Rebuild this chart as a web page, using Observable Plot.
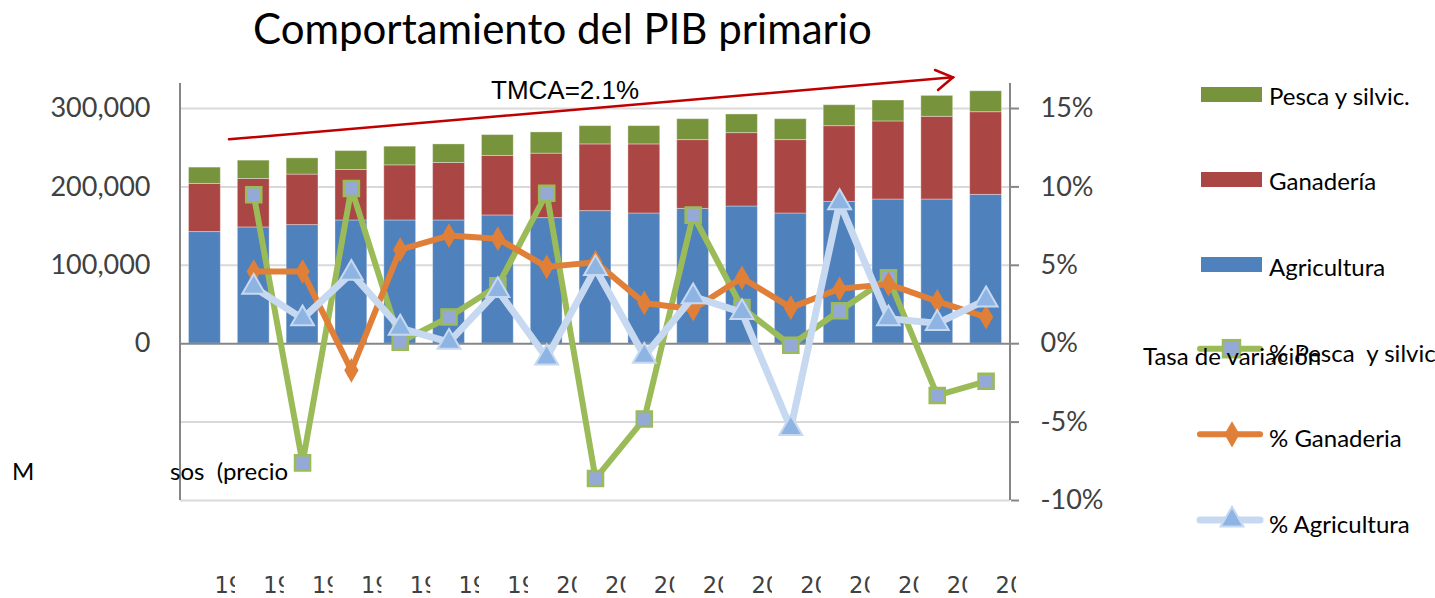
<!DOCTYPE html>
<html><head><meta charset="utf-8">
<script src="https://cdn.jsdelivr.net/npm/d3@7"></script>
<script src="https://cdn.jsdelivr.net/npm/@observablehq/plot@0.6"></script>
<style>
body{margin:0;background:#fff;}
#wrap{position:relative;width:1435px;height:598px;overflow:hidden;font-family:Lato,sans-serif;}
#wrap > svg{position:absolute;left:0;top:0;}
.abs{position:absolute;white-space:pre;color:#000;}
.title{left:253px;top:3px;font-size:42px;line-height:50px;}
.leg{font-size:24px;line-height:28px;left:1269px;}
.sw{position:absolute;left:1201px;width:61px;height:15px;}
</style></head><body><div id="wrap"></div>
<script>
// ---- data ----
const years = ["1993","1994","1995","1996","1997","1998","1999","2000","2001","2002","2003","2004","2005","2006","2007","2008","2009"];
const agricultura = [142400,148300,151300,157200,157200,157200,163600,160200,169100,166100,172000,175000,166100,180900,183900,183900,189800];
const ganaderia   = [61400,61800,64400,64400,70300,73300,75800,82200,85100,88100,87700,93600,93600,96600,99600,105500,105500];
const pesca       = [20800,23400,20700,24100,23800,23700,26700,27100,23300,23300,26700,23800,26700,26700,26700,26700,26700];
const pctPesca       = [null,9.5,-7.6,9.9,0.1,1.7,3.7,9.6,-8.6,-4.8,8.2,2.3,-0.1,2.1,4.2,-3.3,-2.4];
const pctGanaderia   = [null,4.6,4.6,-1.7,6.0,6.9,6.7,4.9,5.2,2.6,2.2,4.2,2.3,3.5,3.8,2.7,1.7];
const pctAgricultura = [null,3.6,1.6,4.5,1.0,0.1,3.4,-0.9,4.8,-0.8,3.0,2.0,-5.4,9.0,1.6,1.3,2.8];
const leftTicks  = [0,100000,200000,300000];
const rightTicks = [-10,-5,0,5,10,15];
const gridTicks  = [-200000,-100000,100000,200000,300000];
const barSeries = [
  {name:"Agricultura", values:agricultura, color:"#4F81BD"},
  {name:"Ganadería", values:ganaderia, color:"#AA4644"},
  {name:"Pesca y silvic.", values:pesca, color:"#77933C"}
];
const K = 20000; // 1 % on the right axis equals 20,000 on the left axis

// ---- table ----
const barRows = barSeries.flatMap(s => years.map((y,i) => ({year:y, series:s.name, value:s.values[i], color:s.color})));
const pctRows = (arr) => years.map((y,i) => ({year:y, pct:arr[i]})).filter(d => d.pct != null);

const axisLines = (index, scales, values, dims) => {
  const g = d3.create("svg:g").attr("stroke","#868686").attr("stroke-width",2);
  const y0 = dims.marginTop, y1 = dims.height - dims.marginBottom;
  [dims.marginLeft, dims.width - dims.marginRight].forEach(x =>
    g.append("line").attr("x1",x).attr("x2",x).attr("y1",y0).attr("y2",y1));
  return g.node();
};

const plot = Plot.plot({
  width:1435, height:598,
  marginLeft:180, marginRight:425, marginTop:83, marginBottom:98,
  x:{type:"band", domain:years, padding:0, round:false},
  y:{domain:[-200000,331900]},
  color:{type:"identity"},
  style:{fontFamily:"Lato, sans-serif", color:"#404040", background:"transparent", overflow:"visible"},
  marks:[
    Plot.gridY(gridTicks, {stroke:"#D9D9D9", strokeOpacity:1, strokeWidth:2}),
    Plot.barY(barRows, {x:"year", y:"value", z:"series", fill:"color", insetLeft:8.5, insetRight:8.5, stroke:"#ffffff", strokeOpacity:0.35, strokeWidth:1}),
    Plot.ruleY([0], {stroke:"#868686", strokeWidth:2}),
    axisLines,
    Plot.axisY({anchor:"left", ticks:leftTicks, tickFormat:d3.format(","), tickSize:0, tickPadding:30, fontSize:27, label:null}),
    Plot.axisY({anchor:"right", ticks:rightTicks.map(p => p*K), tickFormat:d => `${Math.round(d/K)}%`, tickSize:8, tickPadding:22, fontSize:27, stroke:"#868686", strokeWidth:2, label:null}),
    Plot.axisX({anchor:"bottom", tickSize:0, tickPadding:77, fontSize:22.5, fontFamily:"DejaVu Sans", textAnchor:"start", dx:9.5, label:null}),
    // % Pesca y silvic.
    Plot.line(pctRows(pctPesca), {x:"year", y:d => d.pct*K, stroke:"#9BBB59", strokeWidth:6, strokeLinejoin:"round"}),
    Plot.dot(pctRows(pctPesca), {x:"year", y:d => d.pct*K, symbol:"square", r:8.5, fill:"#94A9D6", stroke:"#9BBB59", strokeWidth:2.5}),
    // % Ganaderia
    Plot.line(pctRows(pctGanaderia), {x:"year", y:d => d.pct*K, stroke:"#E07F38", strokeWidth:6, strokeLinejoin:"round"}),
    Plot.dot(pctRows(pctGanaderia), {x:"year", y:d => d.pct*K, symbol:"diamond", r:7.5, fill:"#E07F38"}),
    // % Agricultura
    Plot.line(pctRows(pctAgricultura), {x:"year", y:d => d.pct*K, stroke:"#C6D9F1", strokeWidth:7, strokeLinejoin:"round"}),
    Plot.dot(pctRows(pctAgricultura), {x:"year", y:d => d.pct*K, symbol:"triangle", r:8.5, fill:"#8EB4E3", stroke:"#C6D9F1", strokeWidth:2})
  ]
});

const wrap = document.getElementById("wrap");
wrap.appendChild(plot);

// clip the x tick labels like the original (only the first characters visible)
const defs = d3.select(plot).append("defs");
Array.from(plot.querySelectorAll("g[aria-label*='x-axis'] text")).forEach((t,i) => {
  const bb = t.getBBox();
  if (!bb.width) return;
  const id = "xclip" + i;
  defs.append("clipPath").attr("id",id).attr("clipPathUnits","objectBoundingBox")
    .append("rect").attr("x",0).attr("y",-0.5).attr("width",20.5/bb.width).attr("height",2);
  t.setAttribute("clip-path", `url(#${id})`);
  t.setAttribute("fill", "#404040");
});

// ---- annotations overlay ----
const ov = d3.select(wrap).append("svg").attr("width",1435).attr("height",598)
  .style("position","absolute").style("left",0).style("top",0).style("pointer-events","none");
const arrow = ov.append("g").attr("stroke","#C00000").attr("stroke-width",2.5).attr("fill","none").attr("stroke-linecap","round");
arrow.append("line").attr("x1",229).attr("y1",139.3).attr("x2",953).attr("y2",77.3);
arrow.append("polyline").attr("points","935,70 953,77.3 938,90");
ov.append("text").attr("x",491).attr("y",98.5).attr("font-family","Liberation Sans, Arial, sans-serif").attr("font-size",26).attr("fill","#000").text("TMCA=2.1%");
ov.append("text").attr("x",12).attr("y",480).attr("font-family","Lato, sans-serif").attr("font-size",24).attr("fill","#000").text("M");
ov.append("text").attr("x",170).attr("y",480).attr("font-family","Lato, sans-serif").attr("font-size",24).attr("fill","#000").attr("xml:space","preserve").text("sos  (precio");

// ---- title ----
const title = document.createElement("div");
title.className = "abs title";
title.textContent = "Comportamiento del PIB primario";
wrap.appendChild(title);

// ---- legend ----
const legendBars = [
  {label:"Pesca y silvic.", color:"#77933C", top:87, base:105},
  {label:"Ganadería", color:"#AA4644", top:172, base:190.5},
  {label:"Agricultura", color:"#4F81BD", top:257, base:276}
];
legendBars.forEach(d => {
  const s = document.createElement("div"); s.className="sw"; s.style.top=d.top+"px"; s.style.background=d.color; wrap.appendChild(s);
  const t = document.createElement("div"); t.className="abs leg"; t.style.top=(d.base-23.2)+"px"; t.textContent=d.label; wrap.appendChild(t);
});
const lg = ov.append("g");
const legendLines = [
  {label:"% Pesca  y silvic", y:348.7, base:362, stroke:"#9BBB59", w:6, sym:"square"},
  {label:"% Ganaderia", y:434.3, base:447, stroke:"#E07F38", w:6, sym:"diamond"},
  {label:"% Agricultura", y:520, base:533, stroke:"#C6D9F1", w:7, sym:"triangle"}
];
legendLines.forEach(d => {
  lg.append("line").attr("x1",1200).attr("x2",1260).attr("y1",d.y).attr("y2",d.y)
    .attr("stroke",d.stroke).attr("stroke-width",d.w).attr("stroke-linecap","round");
  if (d.sym === "square") lg.append("rect").attr("x",1223).attr("y",d.y-8.5).attr("width",17).attr("height",17).attr("fill","#94A9D6").attr("stroke","#9BBB59").attr("stroke-width",2.5);
  if (d.sym === "diamond") lg.append("path").attr("d",d3.symbol(d3.symbolDiamond, 200)()).attr("transform",`translate(1232,${d.y})`).attr("fill","#E07F38");
  if (d.sym === "triangle") lg.append("path").attr("d",d3.symbol(d3.symbolTriangle, 227)()).attr("transform",`translate(1232,${d.y})`).attr("fill","#8EB4E3").attr("stroke","#C6D9F1").attr("stroke-width",2);
  const t = document.createElement("div"); t.className="abs leg"; t.style.top=(d.base-23.2)+"px"; t.textContent=d.label; wrap.appendChild(t);
});
const tasa = document.createElement("div");
tasa.className = "abs leg"; tasa.style.left = "1143px"; tasa.style.top = (365-23.2)+"px"; tasa.textContent = "Tasa de variación";
wrap.appendChild(tasa);
</script>
</body></html>
